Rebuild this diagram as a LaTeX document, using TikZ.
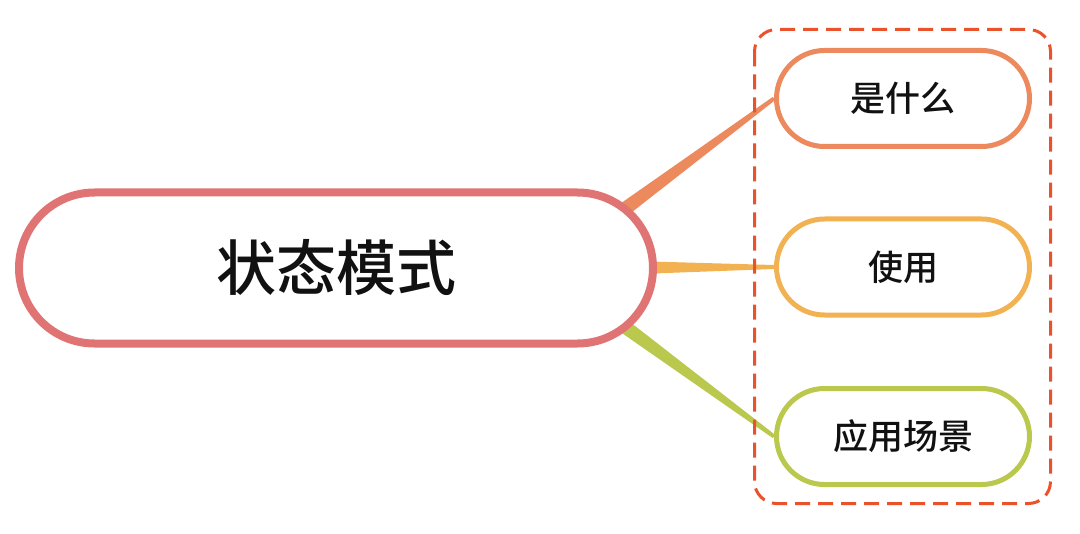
\documentclass[tikz,border=0pt]{standalone}
\usepackage{fontspec}
\setmainfont{Noto Sans CJK SC}[BoldFont={Noto Sans CJK SC Medium}]
\usetikzlibrary{calc,backgrounds}
\definecolor{rootred}{RGB}{224,116,116}
\definecolor{branchorange}{RGB}{236,138,94}
\definecolor{branchyellow}{RGB}{243,178,82}
\definecolor{branchgreen}{RGB}{186,200,78}
\definecolor{boxred}{RGB}{233,82,42}
\definecolor{inktext}{RGB}{17,17,17}
\begin{document}
\begin{tikzpicture}[x=0.5pt, y=-0.5pt, line join=round, line cap=round,
	root/.style={draw=rootred, line width=4pt, fill=white, text=inktext,
		rounded corners=37.75pt, minimum width=317pt, minimum height=75.5pt,
		font=\fontsize{30}{36}\selectfont\bfseries},
	topic/.style={draw=#1, line width=2.5pt, fill=white, text=inktext,
		rounded corners=24pt, minimum width=126.5pt, minimum height=48pt,
		font=\fontsize{17.5}{21}\selectfont\bfseries},
	groupbox/.style={draw=boxred, line width=1.5pt, line cap=butt,
		dash pattern=on 7.5pt off 4pt, rounded corners=11pt}]
	\useasboundingbox (0,0) rectangle (1080,534);
	\path
	(336,268) coordinate (R)
	(545,268) coordinate (hub)
	(903,98.5) coordinate (A)
	(903,267) coordinate (B)
	(903,436.5) coordinate (C);
	\node[root] (state) at (R) {状态模式};
	\node[topic=branchorange] (what) at (A) {是什么};
	\node[topic=branchyellow] (use) at (B) {使用};
	\node[topic=branchgreen] (scene) at (C) {应用场景};
	\begin{scope}[on background layer]
		\foreach \n/\c in {what/branchorange, use/branchyellow, scene/branchgreen}
		\fill[\c] ($(hub)!4.75pt!90:(\n.west)$) -- ($(\n.west)!1pt!-90:(hub)$)
		-- ($(\n.west)!1pt!90:(hub)$) -- ($(hub)!4.75pt!-90:(\n.west)$) -- cycle;
	\end{scope}
	\draw[groupbox] ([shift={(-19.5,-18.5)}]what.north west) rectangle
	([shift={(18.5,16.5)}]scene.south east);
\end{tikzpicture}
\end{document}
